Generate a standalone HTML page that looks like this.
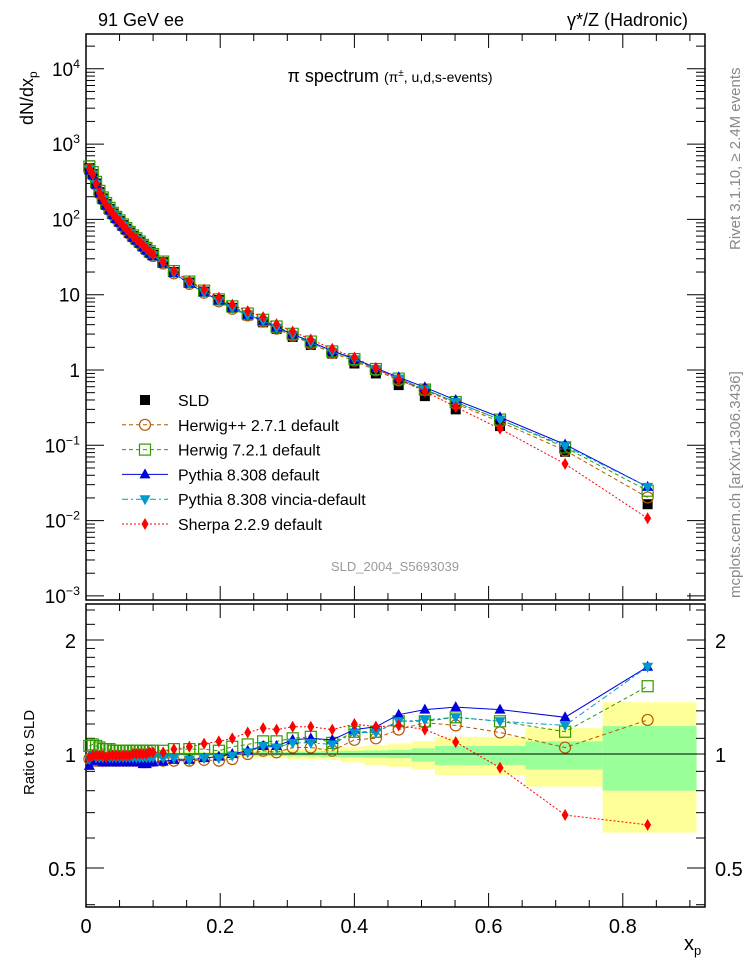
<!DOCTYPE html>
<html><head><meta charset="utf-8"><style>
body{margin:0;background:#fff;}
svg{display:block;font-family:"Liberation Sans",sans-serif;}
</style></head><body>
<svg id="c" width="746" height="972" viewBox="0 0 746 972">
<rect width="746" height="972" fill="#fff"/>
<g id="bands"></g>
<g id="axes"></g>
<g id="series"></g>
<g id="legend"></g>
<text x="98" y="26" font-size="18">91 GeV ee</text>
<text x="688" y="26" font-size="18" text-anchor="end">γ*/Z (Hadronic)</text>
<text x="390" y="82" font-size="18" text-anchor="middle">π spectrum <tspan font-size="14">(π<tspan font-size="10" dy="-6">±</tspan><tspan dy="6">, u,d,s-events)</tspan></tspan></text>
<text transform="translate(33,125) rotate(-90)" font-size="18">dN/dx<tspan font-size="12" dy="4">p</tspan></text>
<text transform="translate(34,795) rotate(-90)" font-size="15">Ratio to SLD</text>
<text x="395" y="571" font-size="13" fill="#999" text-anchor="middle">SLD_2004_S5693039</text>
<text transform="translate(740,250) rotate(-90)" font-size="15" fill="#888">Rivet 3.1.10, ≥ 2.4M events</text>
<text transform="translate(740,598) rotate(-90)" font-size="15" fill="#888">mcplots.cern.ch [arXiv:1306.3436]</text>
<text x="684" y="950" font-size="20">x<tspan font-size="13" dy="5">p</tspan></text>
</svg>
<script>
const xs=[0.005,0.01,0.015,0.02,0.025,0.03,0.035,0.04,0.045,0.05,0.055,0.06,0.065,0.07,0.075,0.08,0.085,0.09,0.095,0.1,0.115,0.131,0.154,0.176,0.198,0.218,0.241,0.264,0.284,0.308,0.335,0.367,0.400,0.432,0.466,0.505,0.551,0.617,0.714,0.837];
const sld=[480,400,300,230,190,160,138,120,106,95,84,75,67,60,55,50,45,41,37,34,27,20,14.5,11,8.5,6.7,5.3,4.3,3.5,2.75,2.15,1.65,1.22,0.9,0.63,0.45,0.30,0.18,0.082,0.0165];
const rHpp=[0.97,0.96,0.96,0.96,0.96,0.96,0.96,0.96,0.96,0.96,0.96,0.96,0.96,0.96,0.96,0.96,0.96,0.96,0.96,0.96,0.96,0.96,0.96,0.965,0.96,0.97,1.0,1.02,1.01,1.04,1.04,1.02,1.09,1.10,1.16,1.21,1.19,1.14,1.04,1.23];
const rH7=[1.05,1.06,1.05,1.04,1.03,1.03,1.03,1.02,1.02,1.02,1.02,1.02,1.02,1.02,1.02,1.02,1.02,1.02,1.02,1.02,1.02,1.03,1.03,1.03,1.02,1.045,1.06,1.08,1.08,1.10,1.11,1.07,1.145,1.145,1.22,1.22,1.25,1.22,1.145,1.51];
const rPy=[0.93,0.96,0.96,0.96,0.95,0.95,0.95,0.95,0.95,0.95,0.95,0.95,0.95,0.95,0.95,0.95,0.94,0.94,0.95,0.95,0.955,0.965,0.965,0.975,0.985,1.0,1.02,1.05,1.05,1.09,1.10,1.09,1.16,1.18,1.27,1.31,1.33,1.31,1.25,1.70];
const rVin=[0.97,0.99,0.98,0.98,0.98,0.98,0.98,0.98,0.98,0.98,0.98,0.98,0.98,0.98,0.98,0.98,0.98,0.98,0.98,0.98,0.975,0.975,0.965,0.975,0.975,0.99,1.01,1.05,1.04,1.07,1.07,1.06,1.14,1.14,1.22,1.23,1.25,1.22,1.19,1.70];
const rSh=[0.98,0.99,0.99,0.99,0.99,0.98,0.99,0.99,0.99,0.99,0.99,0.99,0.99,1.0,1.0,1.0,1.0,1.0,1.01,1.01,1.01,1.03,1.045,1.065,1.08,1.10,1.14,1.17,1.16,1.18,1.18,1.16,1.2,1.18,1.19,1.16,1.075,0.92,0.69,0.65];
const binLo=[0.0,0.11,0.2,0.25,0.3,0.35,0.38,0.415,0.45,0.485,0.52,0.585,0.655,0.77];
const binHi=[0.11,0.2,0.25,0.3,0.35,0.38,0.415,0.45,0.485,0.52,0.585,0.655,0.77,0.91];
const totUp=[1.01,1.015,1.02,1.025,1.03,1.035,1.045,1.055,1.065,1.08,1.11,1.11,1.17,1.37];
const totDn=[0.99,0.985,0.98,0.975,0.97,0.965,0.95,0.935,0.925,0.91,0.88,0.88,0.82,0.62];
const statUp=[1.005,1.008,1.01,1.012,1.015,1.018,1.02,1.022,1.025,1.035,1.05,1.05,1.08,1.185];
const statDn=[0.995,0.992,0.99,0.988,0.985,0.982,0.98,0.978,0.975,0.955,0.935,0.935,0.91,0.80];
const yTickVals=[1e4,1e3,1e2,10,1,0.1,0.01,0.001];
const yTickLabels=["10^4","10^3","10^2","10","1","10^-1","10^-2","10^-3"];
const xTickVals=[0,0.2,0.4,0.6,0.8];
const xTickLabels=["0","0.2","0.4","0.6","0.8"];
const rTickVals=[0.5,1,2];
const rTickLabels=["0.5","1","2"];

const L=86,R=705,T=34,MB=600,RT=604,RB=907;
const NS="http://www.w3.org/2000/svg";
const X=v=>L+671*v;
const Y=v=>370-75.3*Math.log10(v);
const YR=v=>754-114*Math.log2(v);
function mk(tag,at,parent){const e=document.createElementNS(NS,tag);for(const k in at)e.setAttribute(k,at[k]);parent.appendChild(e);return e;}
const axes=document.getElementById('axes'),bands=document.getElementById('bands'),ser=document.getElementById('series'),leg=document.getElementById('legend');

// bands
for(let i=0;i<binLo.length;i++){
  const x0=X(binLo[i]),x1=X(binHi[i]);
  let r=mk('rect',{x:x0,y:YR(totUp[i]),width:x1-x0,height:YR(totDn[i])-YR(totUp[i]),fill:'#ffff99'},bands);
  
  
  r=mk('rect',{x:x0,y:YR(statUp[i]),width:x1-x0,height:YR(statDn[i])-YR(statUp[i]),fill:'#99ff99'},bands);
  
  
}
mk('line',{x1:L,x2:R,y1:YR(1),y2:YR(1),stroke:'#000','stroke-width':1},bands);

// frames
let f=mk('rect',{x:L,y:T,width:R-L,height:MB-T,fill:'none',stroke:'#000','stroke-width':1.5},axes);


f=mk('rect',{x:L,y:RT,width:R-L,height:RB-RT,fill:'none',stroke:'#000','stroke-width':1.5},axes);



function label(x,y,txt,anchor,size){
  const t=mk('text',{x:x,y:y,'font-size':size,'text-anchor':anchor},axes);
  const m=txt.match(/^10\^(.*)$/);
  if(m){t.textContent='10';const s=mk('tspan',{dy:-8,'font-size':size*0.65},t);s.textContent=m[1].replace('-','−');}
  else t.textContent=txt;
  return t;
}
// y ticks main
for(let d=-3;d<=4;d++){
  for(let k=1;k<10;k++){
    const v=k*Math.pow(10,d);const y=Y(v);
    if(y<T||y>MB)continue;
    const len=k==1?18:9;
    mk('line',{x1:L,x2:L+len,y1:y,y2:y,stroke:'#000'},axes);
    mk('line',{x1:R,x2:R-len,y1:y,y2:y,stroke:'#000'},axes);
  }
}
yTickVals.forEach((v,i)=>{const t=label(L-6,Y(v)+7,yTickLabels[i],'end',19);
  
  });
// ratio ticks
const rMinor=[0.4,0.5,0.6,0.7,0.8,0.9,1,1.1,1.2,1.3,1.4,1.5,1.6,1.7,1.8,1.9,2,2.2,2.4];
rMinor.forEach(v=>{const y=YR(v);if(y<RT||y>RB)return;const len=rTickVals.includes(v)?18:9;
  mk('line',{x1:L,x2:L+len,y1:y,y2:y,stroke:'#000'},axes);
  mk('line',{x1:R,x2:R-len,y1:y,y2:y,stroke:'#000'},axes);});
rTickVals.forEach((v,i)=>{
  let t=label(L-10,YR(v)+8,rTickLabels[i],'end',20);
  
  
  t=label(R+10,YR(v)+8,rTickLabels[i],'start',20);
  
  });
// x ticks
for(let i=0;i<=18;i++){const v=i*0.05;const x=X(v);if(x>R)break;const len=i%4==0?14:7;
  mk('line',{x1:x,x2:x,y1:T,y2:T+len,stroke:'#000'},axes);
  mk('line',{x1:x,x2:x,y1:MB,y2:MB-len,stroke:'#000'},axes);
  mk('line',{x1:x,x2:x,y1:RT,y2:RT+len,stroke:'#000'},axes);
  mk('line',{x1:x,x2:x,y1:RB,y2:RB-len,stroke:'#000'},axes);}
xTickVals.forEach((v,i)=>{const t=label(X(v),933,xTickLabels[i],'middle',20);
  
  });

// markers
function marker(type,x,y,color,g){
  if(type=='sq') return mk('rect',{x:x-5,y:y-5,width:10,height:10,fill:'#000'},g);
  if(type=='circ') return mk('circle',{cx:x,cy:y,r:5.5,fill:'none',stroke:color,'stroke-width':1.2},g);
  if(type=='osq') return mk('rect',{x:x-5.5,y:y-5.5,width:11,height:11,fill:'none',stroke:color,'stroke-width':1.2},g);
  if(type=='tri') return mk('path',{d:`M${x},${y-6}L${x+5.5},${y+4}L${x-5.5},${y+4}Z`,fill:color},g);
  if(type=='itri') return mk('path',{d:`M${x},${y+6}L${x+5.5},${y-4}L${x-5.5},${y-4}Z`,fill:color},g);
  if(type=='dia') return mk('path',{d:`M${x},${y-6}L${x+3.5},${y}L${x},${y+6}L${x-3.5},${y}Z`,fill:color},g);
}
const MCs=[
 {name:'herwigpp',r:rHpp,c:'#b35900',dash:'4,3',m:'circ',lbl:'Herwig++ 2.7.1 default'},
 {name:'herwig7',r:rH7,c:'#339900',dash:'4,3',m:'osq',lbl:'Herwig 7.2.1 default'},
 {name:'pythia',r:rPy,c:'#0000dd',dash:'',m:'tri',lbl:'Pythia 8.308 default'},
 {name:'vincia',r:rVin,c:'#0099cc',dash:'6,3,2,3',m:'itri',lbl:'Pythia 8.308 vincia-default'},
 {name:'sherpa',r:rSh,c:'#ff0000',dash:'2,2',m:'dia',lbl:'Sherpa 2.2.9 default'}];
// SLD data main
const gd=mk('g',{},ser);


xs.forEach((x,i)=>marker('sq',X(x),Y(sld[i]),'#000',gd));
MCs.forEach(s=>{
  const g=mk('g',{},ser);
  
  
  const pm=xs.map((x,i)=>X(x)+','+Y(sld[i]*s.r[i])).join(' ');
  const pr=xs.map((x,i)=>X(x)+','+YR(s.r[i])).join(' ');
  mk('polyline',{points:pm,fill:'none',stroke:s.c,'stroke-width':1,'stroke-dasharray':s.dash},g);
  mk('polyline',{points:pr,fill:'none',stroke:s.c,'stroke-width':1,'stroke-dasharray':s.dash},g);
  xs.forEach((x,i)=>{marker(s.m,X(x),Y(sld[i]*s.r[i]),s.c,g);marker(s.m,X(x),YR(s.r[i]),s.c,g);});
});
// legend
const rows=[{lbl:'SLD',m:'sq',c:'#000',dash:null,name:'sld'}].concat(MCs);
rows.forEach((s,i)=>{
  const y=400+i*24.8;
  const g=mk('g',{},leg);
  
  
  if(s.dash!==null) mk('line',{x1:122,x2:168,y1:y,y2:y,stroke:s.c,'stroke-dasharray':s.dash},g);
  marker(s.m,145,y,s.c,g);
  const t=mk('text',{x:178,y:y+6,'font-size':16},g);t.textContent=s.lbl||'SLD';
});
</script>
</body></html>
